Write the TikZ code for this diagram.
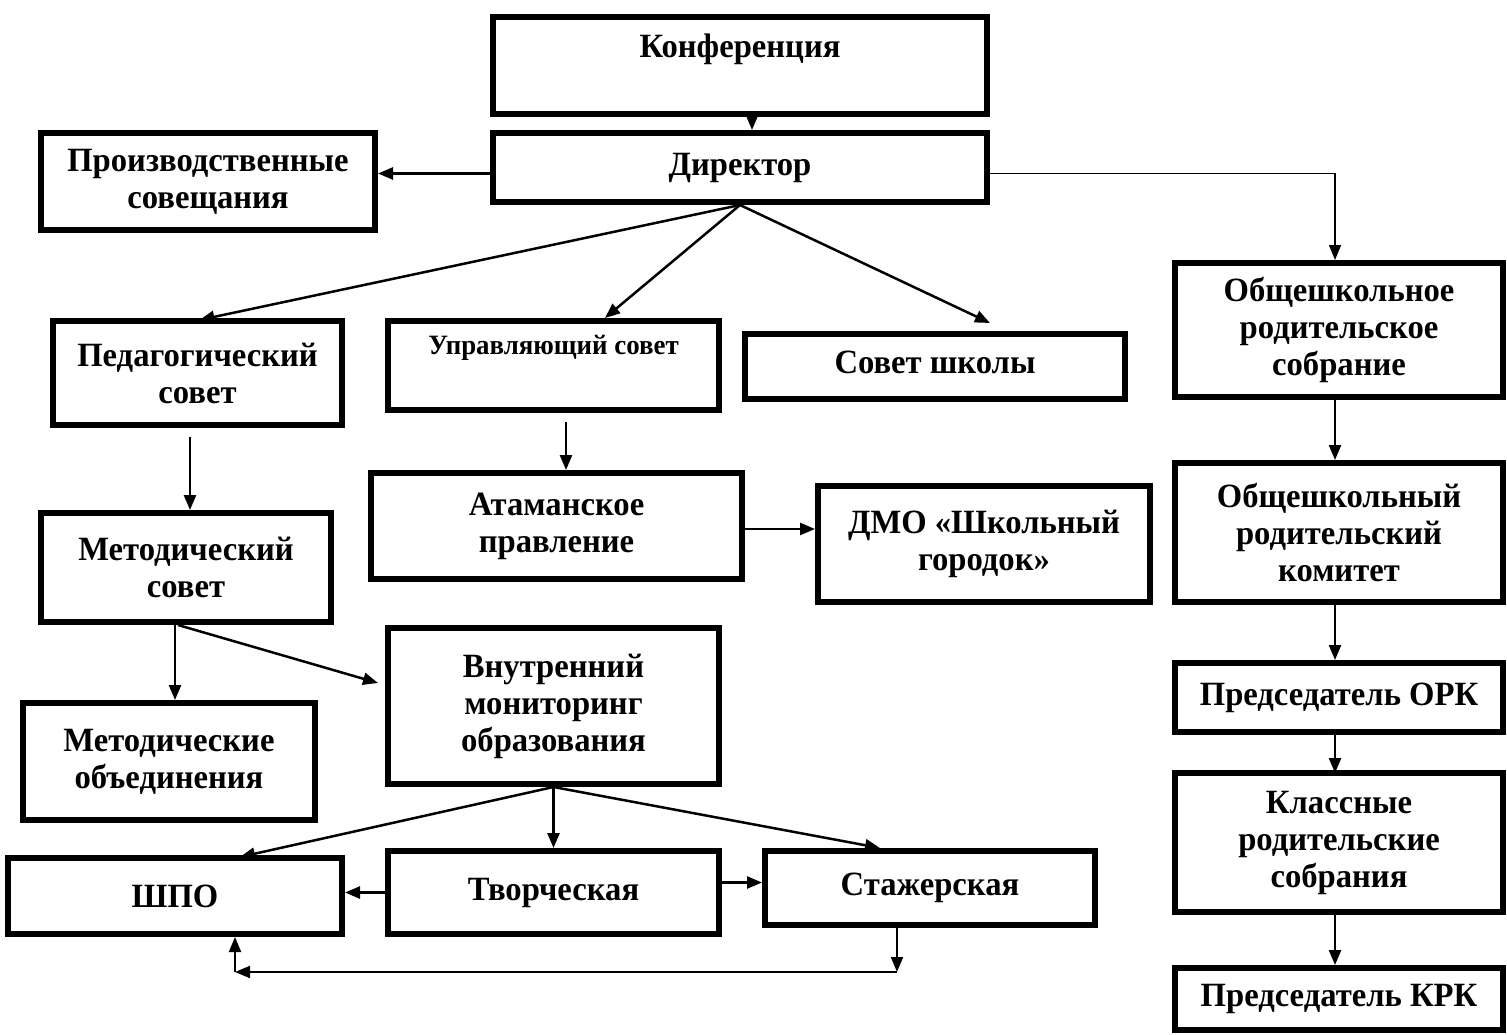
\documentclass[tikz,border=0pt]{standalone}
\usepackage{fontspec}
\setmainfont{Liberation Serif}[FakeStretch=0.96]
\usetikzlibrary{arrows.meta,calc}
\begin{document}
\begin{tikzpicture}[x=1pt,y=-1pt,
  box/.style={draw,line width=6pt,align=center,inner sep=0pt,
    font=\fontsize{34}{37}\selectfont\bfseries},
  rbox/.style={box,minimum width=328pt},
  lbl/.style={inner sep=0pt,font=\fontsize{34}{37}\selectfont\bfseries},
  con/.style={line width=2.5pt,-{Triangle[length=15pt,width=12pt]}},
  thin/.style={line width=1.6pt,-{Triangle[length=15pt,width=12pt]}}]
\useasboundingbox[fill=white] (0,0) rectangle (1507,1035);

\node[box,minimum width=494pt,minimum height=97pt] (conf) at (740,65.5) {};
\node[lbl] (conflabel) at (740,49) {Конференция};
\node[box,minimum width=494pt,minimum height=69pt] (dir) at (740,167.5) {Директор};
\node[box,minimum width=334pt,minimum height=97pt] (proizv) at (208,181.5) {Производственные\\совещания};
\node[rbox,minimum height=134pt] (obsh1) at (1339,330) {Общешкольное\\родительское\\собрание};
\node[box,minimum width=289pt,minimum height=104pt] (ped) at (197.5,373) {Педагогический\\совет};
\node[box,minimum width=331pt,minimum height=89pt] (upr) at (553.5,365.5) {};
\node[inner sep=0pt,font=\fontsize{28}{32}\selectfont\bfseries] (uprlabel) at (553.5,348) {Управляющий совет};
\node[box,minimum width=380pt,minimum height=65pt] (sovet) at (935,366.5) {};
\node[lbl] (sovetlabel) at (935,362) {Совет школы};
\node[box,minimum width=290pt,minimum height=109pt] (metod) at (186,567.5) {Методический\\совет};
\node[box,minimum width=371pt,minimum height=106pt] (ataman) at (556.5,526) {Атаманское\\правление};
\node[box,minimum width=332pt,minimum height=116pt] (dmo) at (984,544) {ДМО «Школьный\\городок»};
\node[rbox,minimum height=139pt] (obsh2) at (1339,532.5) {Общешкольный\\родительский\\комитет};
\node[box,minimum width=292pt,minimum height=117pt] (mo) at (169,761.5) {Методические\\объединения};
\node[box,minimum width=331pt,minimum height=156pt] (vnutr) at (553.5,706) {Внутренний\\мониторинг\\образования};
\node[rbox,minimum height=69pt] (orc) at (1339,697.5) {Председатель ОРК};
\node[rbox,minimum height=139pt] (klass) at (1339,842.5) {Классные\\родительские\\собрания};
\node[rbox,minimum height=62pt] (krk) at (1339,999) {Председатель КРК};
\node[box,minimum width=334pt,minimum height=76pt] (shpo) at (175,896) {ШПО};
\node[box,minimum width=331pt,minimum height=83pt] (tvor) at (553.5,892.5) {Творческая};
\node[box,minimum width=330pt,minimum height=74pt] (stazh) at (930,888) {};
\node[lbl] (stazhlabel) at (930,888) {Стажерская};

\coordinate (c1) at (897,972);
\coordinate (c2) at (235,972);

\draw[con] ([xshift=12pt]conf.south) -- ([xshift=12pt]dir.north);
\draw[con] ([yshift=-6pt]dir.west) -- ([yshift=-6pt]dir.west -| proizv.east);
\draw[thin] ([yshift=-6pt]dir.east) -| ([xshift=-4pt]obsh1.north);
\draw[con] (dir.south) -- ([xshift=2pt,yshift=-2pt]ped.north);
\draw[con] (dir.south) -- ([xshift=51.5pt]upr.north);
\draw[con] (dir.south) -- ([xshift=55pt,yshift=8pt]sovet.north);
\draw[con] ([xshift=-7.5pt,yshift=-9pt]ped.south) -- ([xshift=4pt]metod.north);
\draw[con] ([xshift=12.5pt,yshift=-9pt]upr.south) -- ([xshift=9.5pt]ataman.north);
\draw[con] ([yshift=-3pt]ataman.east) -- ([yshift=-3pt]ataman.east -| dmo.west);
\draw[con] ([xshift=-11pt]metod.south) -- ([xshift=6pt]mo.north);
\draw[con] ([xshift=-8pt]metod.south) -- ([xshift=-7pt,yshift=23pt]vnutr.west);
\draw[con] (vnutr.south) -- ([xshift=65pt,yshift=-2pt]shpo.north);
\draw[con] (vnutr.south) -- (tvor.north);
\draw[con] (vnutr.south) -- ([xshift=-50pt]stazh.north);
\draw[con] (tvor.west) -- (tvor.west -| shpo.east);
\draw[con] ([yshift=10pt]tvor.east) -- ([yshift=10pt]tvor.east -| stazh.west);
\draw[con,line width=2pt] ([xshift=-33pt]stazh.south) -- (c1);
\draw[con,line width=2pt] (c1) -- (c2);
\draw[con,line width=2pt] (c2) -- ([xshift=60pt]shpo.south);
\draw[con] ([xshift=-4pt]obsh1.south) -- ([xshift=-4pt]obsh2.north);
\draw[con] ([xshift=-4pt]obsh2.south) -- ([xshift=-4pt]orc.north);
\draw[con] ([xshift=-4pt]orc.south) -- ([xshift=-4pt,yshift=-3pt]klass.north);
\draw[con] ([xshift=-4pt]klass.south) -- ([xshift=-4pt]krk.north);
\end{tikzpicture}
\end{document}
